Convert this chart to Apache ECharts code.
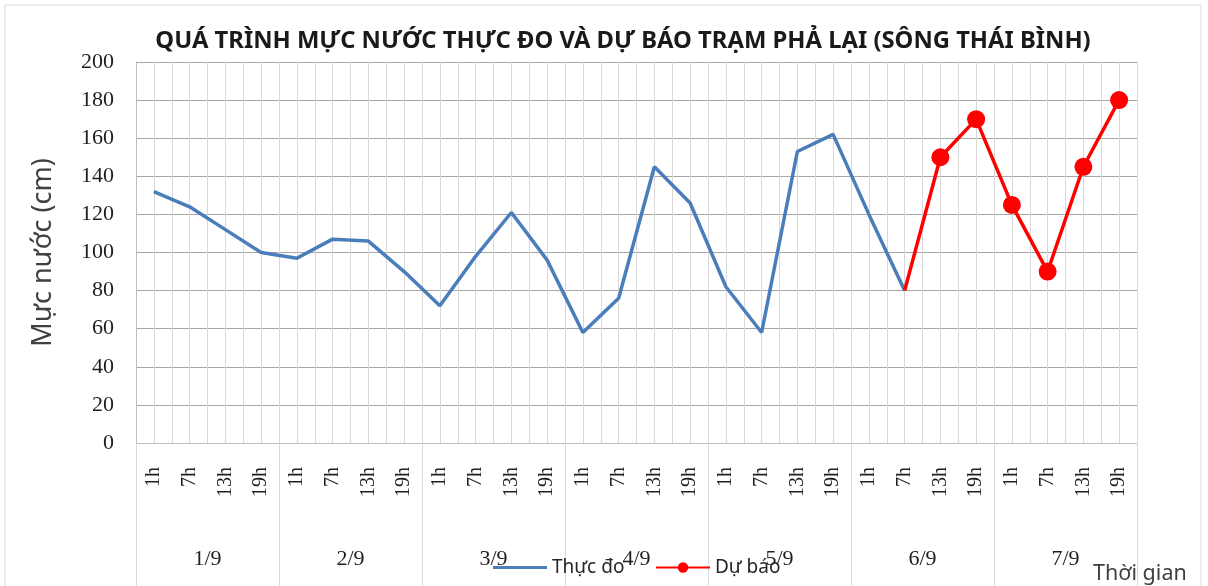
<!DOCTYPE html>
<html>
<head>
<meta charset="utf-8">
<script src="https://cdn.jsdelivr.net/npm/echarts@6/dist/echarts.min.js"></script>
<style>html,body{margin:0;padding:0;background:#fff}#c{width:1208px;height:586px}</style>
</head>
<body>
<div id="c"></div>
<script>
const days = ['1/9','2/9','3/9','4/9','5/9','6/9','7/9'];
const hours = ['1h','7h','13h','19h'];
const observed = [132,124,112,100, 97,107,106,90, 72,98,121,96, 58,76,145,126, 82,58,153,162, 120,80];
const forecastStart = 21;
const forecast = [80,150,170,125,90,145,180];
const yMin = 0, yMax = 200, yStep = 20;

const categories = [];
days.forEach(d => hours.forEach(h => categories.push(h)));
const forecastData = categories.map((c, i) => {
  if (i < forecastStart) return '-';
  const v = forecast[i - forecastStart];
  return i === forecastStart ? { value: v, symbol: 'none' } : v;
});

const serif = '"Liberation Serif", "DejaVu Serif", serif';
const sans = '"Noto Sans", "Open Sans", sans-serif';
const legendText = { fontFamily: sans, fontSize: 19, color: '#262626' };
const chart = echarts.init(document.getElementById('c'), null, { renderer: 'canvas' });
chart.setOption({
  animation: false,
  backgroundColor: '#fff',
  title: [
    { text: 'QUÁ TRÌNH MỰC NƯỚC THỰC ĐO VÀ DỰ BÁO TRẠM PHẢ LẠI (SÔNG THÁI BÌNH)', left: 618, textAlign: 'center', top: 24,
      textStyle: { fontFamily: sans, fontWeight: 'bold', fontSize: 23.8, color: '#1a1a1a' } },
    { text: 'Thời gian', left: 1088, top: 558, textStyle: { fontFamily: sans, fontWeight: 'normal', fontSize: 21.5, color: '#404040' } }
  ],
  legend: [
    { left: 488, top: 553, itemWidth: 54, itemHeight: 3, itemGap: 6,
      textStyle: legendText, data: [{ name: 'Thực đo', icon: 'rect' }] },
    { left: 650, top: 553, itemWidth: 54, itemHeight: 13, itemGap: 6,
      textStyle: legendText, data: ['Dự báo'] }
  ],
  graphic: [{ type: 'rect', shape: { x: 5, y: 5, width: 1196, height: 600 }, style: { fill: 'none', stroke: '#d9d9d9', lineWidth: 1 }, silent: true, z: -1 }],
  grid: { left: 136, right: 71, top: 62, bottom: 143 },
  xAxis: [
    { type: 'category', data: categories, boundaryGap: true,
      axisLine: { lineStyle: { color: '#bfbfbf' } }, axisTick: { show: false },
      axisLabel: { rotate: 90, margin: 24, interval: 0, fontFamily: serif, fontSize: 20, color: '#1f1f1f' },
      splitLine: { show: false } },
    { type: 'category', data: days, boundaryGap: true, position: 'bottom',
      axisLine: { show: false },
      axisTick: { show: true, length: 145, lineStyle: { color: '#d9d9d9' } },
      axisLabel: { margin: 105, fontFamily: serif, fontSize: 22, color: '#1f1f1f' },
      splitLine: { show: false } },
    { type: 'value', min: 0, max: categories.length * 2, interval: 1, position: 'top',
      axisLine: { show: false }, axisTick: { show: false }, axisLabel: { show: false },
      splitLine: { show: true, lineStyle: { color: '#d9d9d9', width: 1 } } }
  ],
  yAxis: {
    type: 'value', min: yMin, max: yMax, interval: yStep,
    name: 'Mực nước (cm)', nameLocation: 'middle', nameGap: 79,
    nameTextStyle: { fontFamily: sans, fontSize: 27, color: '#404040' },
    axisLine: { show: true, lineStyle: { color: '#bfbfbf' } }, axisTick: { show: false },
    axisLabel: { margin: 22, fontFamily: serif, fontSize: 22, color: '#1f1f1f' },
    splitLine: { lineStyle: { color: '#a6a6a6', width: 1 } }
  },
  series: [
    { name: 'Thực đo', type: 'line', xAxisIndex: 0, data: observed, symbol: 'none',
      lineStyle: { color: '#4a7ebb', width: 3.5 }, itemStyle: { color: '#4a7ebb' }, z: 3 },
    { name: 'Dự báo', type: 'line', xAxisIndex: 0, data: forecastData, symbol: 'circle', symbolSize: 18,
      lineStyle: { color: '#ff0000', width: 3.5 }, itemStyle: { color: '#ff0000' }, z: 4 }
  ]
});
</script>
</body>
</html>
